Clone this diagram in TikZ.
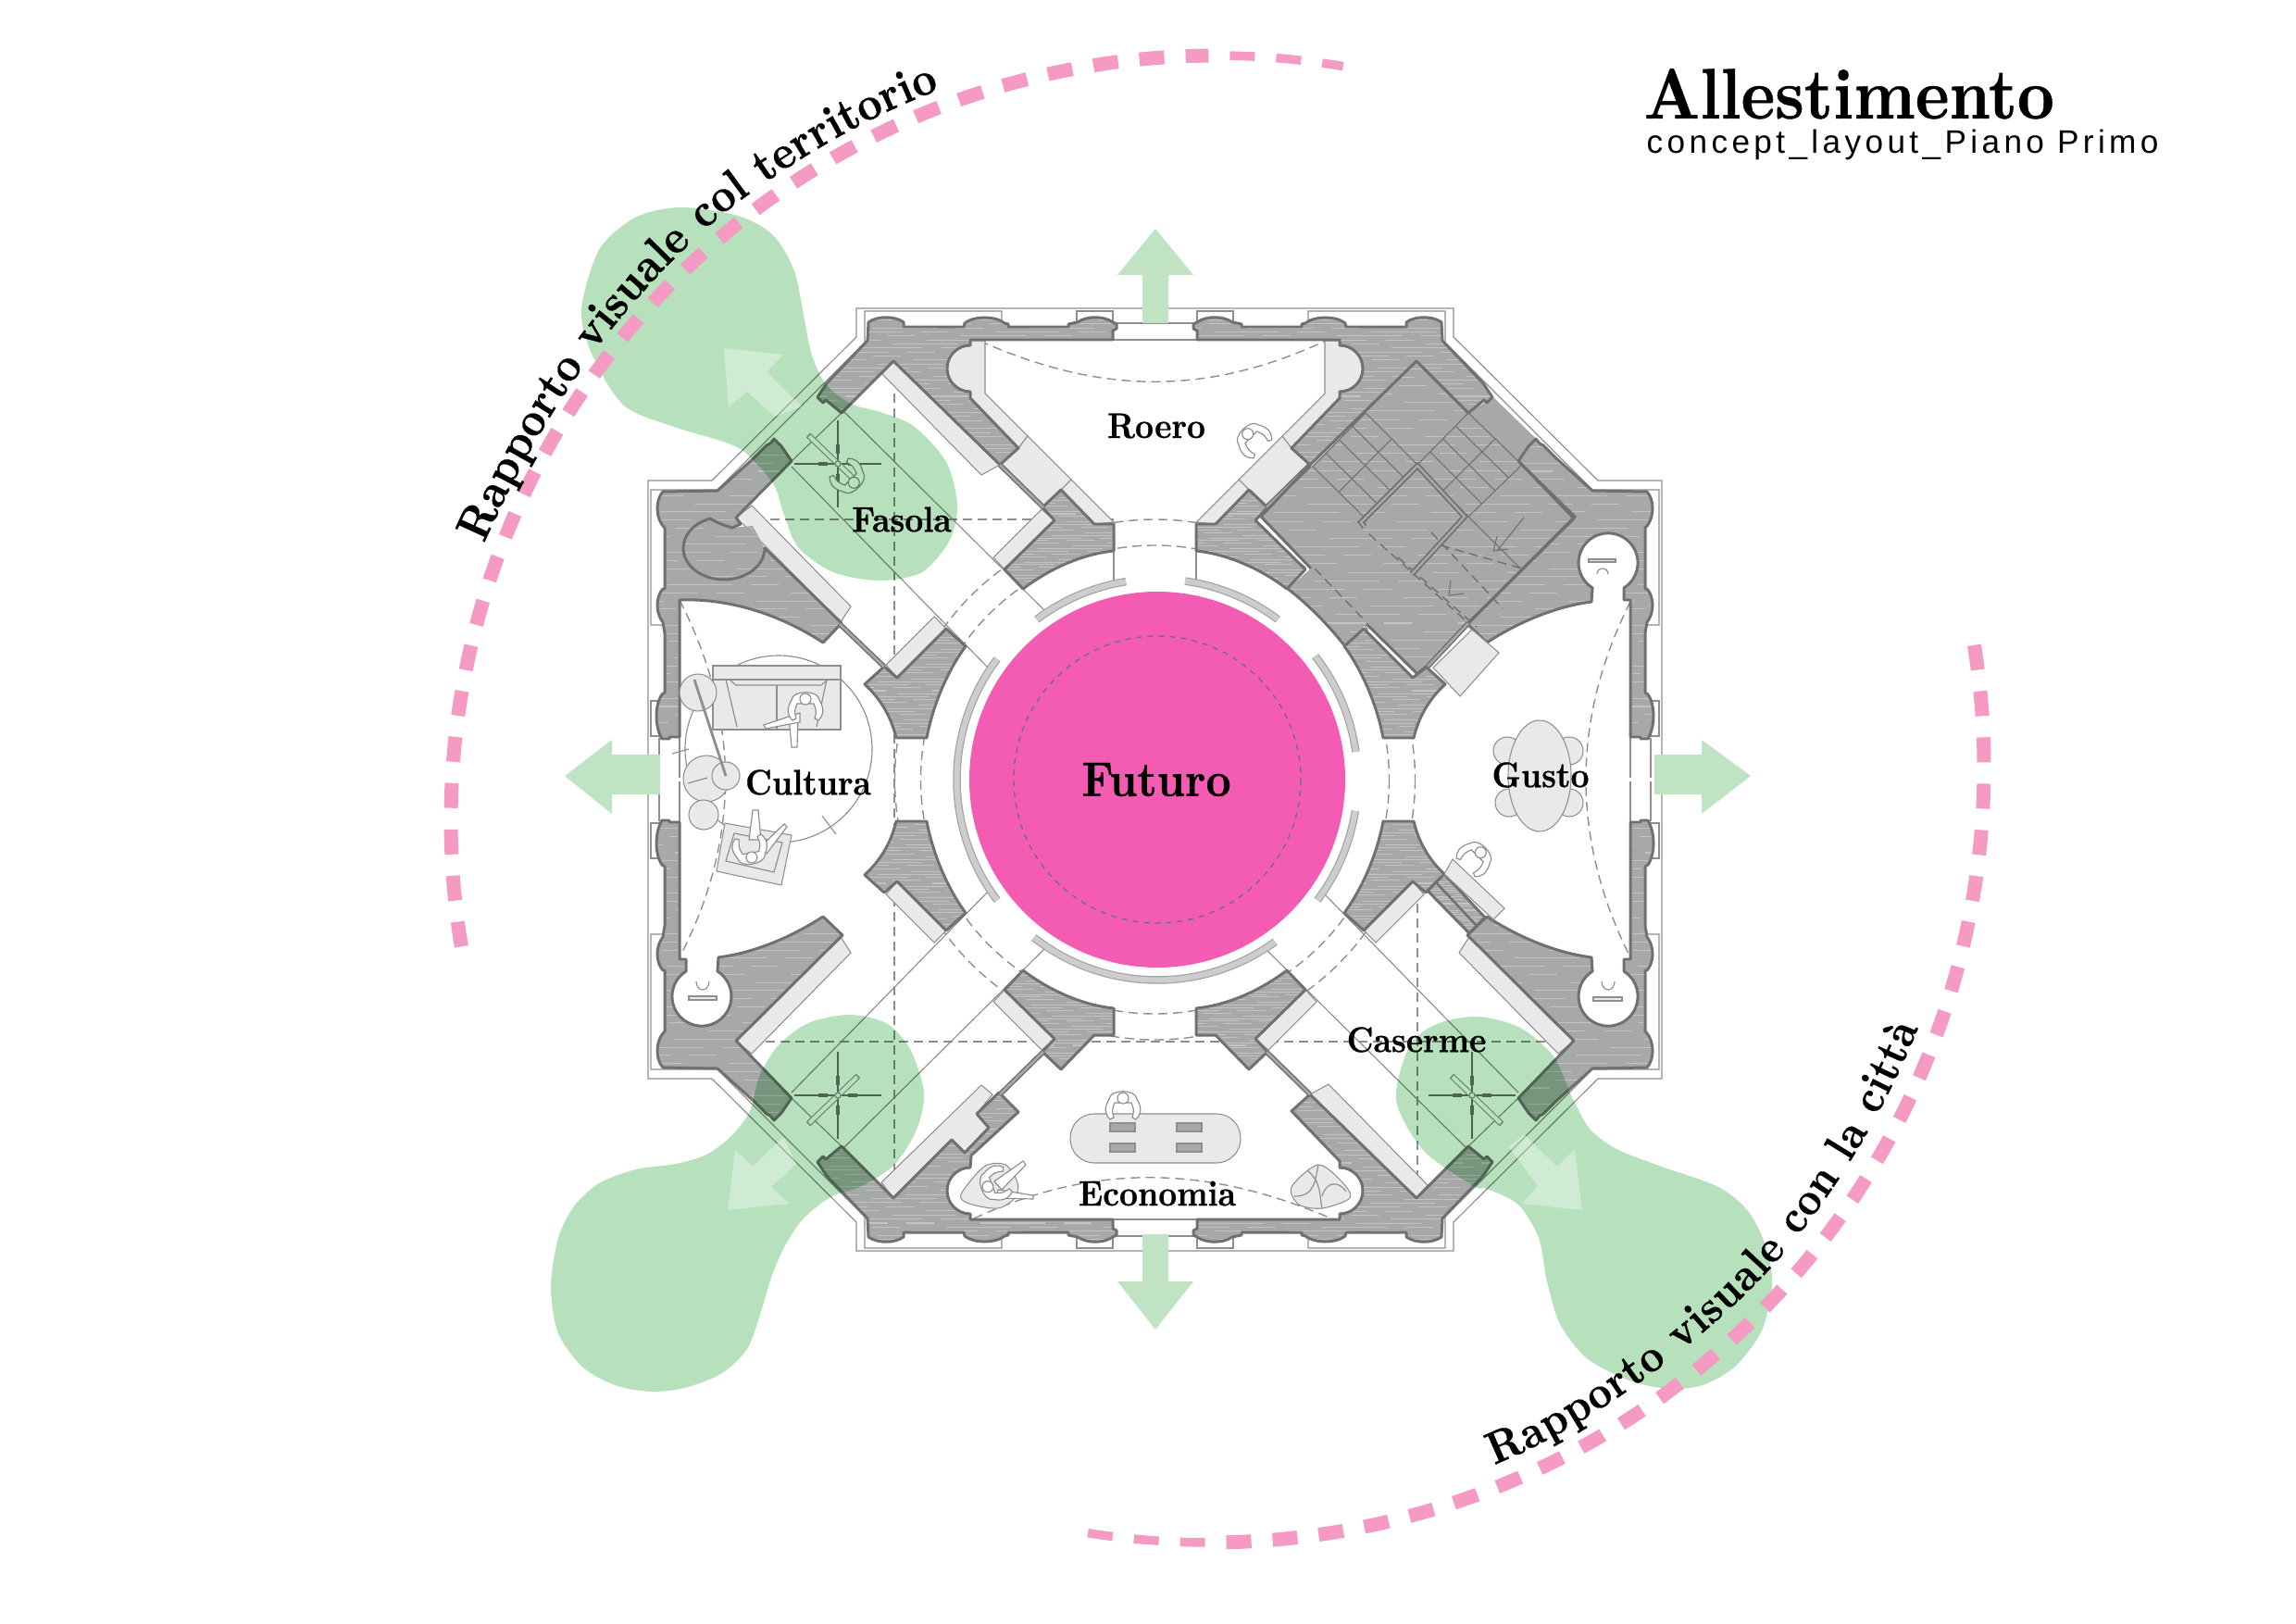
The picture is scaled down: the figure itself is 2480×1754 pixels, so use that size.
\documentclass[tikz,border=0pt]{standalone}
\usepackage{fontspec}
\usetikzlibrary{calc,decorations.text}
\newfontfamily\subfont[LetterSpace=12.5]{Liberation Sans}
\newfontfamily\heavyfont{lmroman10-bold.otf}[FakeBold=.5,FakeStretch=.9]
\definecolor{wallgray}{HTML}{A7A8AA}
\definecolor{walldark}{HTML}{707072}
\definecolor{benchgray}{HTML}{E9E9EA}
\definecolor{linegray}{HTML}{8E8E8E}
\definecolor{futuropink}{HTML}{F45CB4}
\definecolor{dashpink}{HTML}{F49AC3}
\definecolor{blobgreen}{HTML}{B7E1BC}
\definecolor{arrowgreen}{HTML}{C0E4C3}
\definecolor{bandgray}{HTML}{CDCDCE}
\newcommand{\pathfont}{\heavyfont\fontsize{14.5}{16}\selectfont}
\newcommand{\pathfontB}{\heavyfont\fontsize{14}{16}\selectfont}
% outlines are written for the upper left corner of the plan
\newcommand{\pathWallA}[1]{(-48,-475) -- (-48,-485) -- (-44,-487) -- (-44,-492) -- (-48,-494) .. controls (-58,-501) and (-76,-501) .. (-86,-494) -- (-96,-492) -- (-96,-489) -- (-161,-489) -- (-161,-492) -- (-165,-493) .. controls (-175,-501) and (-198,-501) .. (-208,-493) -- (-209,-489) -- (-274,-489) -- (-274,-494) .. controls (-284,-501) and (-302,-501) .. (-312,-494) -- (-313,-474) -- (-357,-428) -- (-367,-413) -- (-361,-407) -- (-358,-410) -- (-341,-396) -- (-285,-452) -- #1 -- (-202,-419) arc (90:270:25) -- (-202,-475) -- cycle}
\newcommand{\pathWallB}{(-395,-344) -- (-406,-360) -- (-414,-368) -- (-418,-363) -- (-422,-361) -- (-436,-347) -- (-475,-312) -- (-534,-311) .. controls (-542,-302) and (-542,-284) .. (-534,-274) -- (-532,-272) -- (-532,-206) -- (-534,-206) .. controls (-542,-197) and (-542,-180) .. (-534,-170) -- (-532,-158) -- (-532,-94) -- (-535,-92) .. controls (-543,-80) and (-543,-58) .. (-535,-44) -- (-527,-44) -- (-527,-46) -- (-516,-46) -- (-516,-194)}
\tikzset{
  wall/.style={fill=wallgray,draw=walldark,line width=.85pt,line join=round,
    path picture={\foreach \k in {1,...,36}{
      \draw[streak,dash phase=\k*3.7mm] ($(path picture bounding box.north west)!\k/37!(path picture bounding box.south west)$) -- ($(path picture bounding box.north east)!\k/37!(path picture bounding box.south east)$);}}},
  streak/.style={draw=white,opacity=.3,line width=.3pt,dash pattern=on 7mm off 2mm on 3mm off 5mm},
  bench/.style={fill=benchgray,draw=linegray,line width=.3pt},
  thinline/.style={draw=linegray,line width=.33pt},
  stairline/.style={draw=walldark,line width=.3pt},
  dashline/.style={draw=linegray,line width=.4pt,dash pattern=on 1mm off .6mm},
  blob/.style={fill=blobgreen,blend mode=multiply},
  openarrow/.style={fill=arrowgreen},
  paleArrow/.style={fill=white,opacity=.35},
  pinkdash/.style={draw=dashpink,line width=1.5mm,dash pattern=on 2.7mm off 2.307mm},
  sign/.style={font=\heavyfont\fontsize{11}{13}\selectfont},
  person/.pic={
    \draw[thinline,fill=white] (-15,-2) .. controls (-22,-14) and (-18,-20) .. (-14,-24) -- (-10,-22) .. controls (-12,-14) .. (-9,-6) -- (9,-6) .. controls (12,-14) .. (10,-22) -- (14,-24) .. controls (18,-20) and (22,-14) .. (15,-2) .. controls (14,9) and (-14,9) .. cycle;
    \draw[thinline,fill=white] (0,-1) circle (6);
  }
}
\begin{document}
\begin{tikzpicture}[x=.1mm,y=-.1mm]
  \useasboundingbox (0,0) rectangle (2480,1754);
  % hub rings and long axes
  \begin{scope}[shift={(1250,842)}]
    \draw[dashline] (-2.5,0) circle (253);
    \draw[dashline] (-2.5,0) circle (281);
    \draw[dashline] (-450,-281) -- (-47,-281);
    \draw[dashline] (-455,283) -- (450,283);
    \draw[dashline] (-284,-417) -- (-284,452);
    \draw[dashline] (281,118) -- (281,452);
    \draw[dashline] (-192,-474) .. controls (-60,-415) and (55,-415) .. (182,-474);
    \draw[dashline] (-198,474) .. controls (-70,415) and (50,415) .. (188,474);
    \draw[dashline] (-516,-194) .. controls (-450,-65) and (-450,65) .. (-516,192);
    \draw[dashline] (511,-192) .. controls (447,-65) and (447,65) .. (511,192);
  \end{scope}
  % outer lines
  \foreach \qx/\qy/\ox in {1/1/1250,1/-1/1250,-1/1/1245,-1/-1/1245}{
    \begin{scope}[shift={(\ox,842)},xscale=\qx,yscale=\qy]
      \draw[thinline] (-2.5,-509) -- (-325,-509) -- (-325,-478) -- (-481,-323) -- (-550,-323) -- (-550,-2);
      \draw[thinline] (-48,-493) -- (-48,-506) -- (-87,-506) -- (-87,-490);
      \draw[thinline] (-168,-490) -- (-168,-506) -- (-316,-506) -- (-316,-472) -- (-475,-313) -- (-547,-313) -- (-547,-167) -- (-534,-167);
      \draw[thinline] (-534,-85) -- (-547,-85) -- (-547,-47) -- (-535,-47);
      \draw[thinline] (-48,-493) -- (-2.5,-493);
      \draw[thinline] (-48,-475) -- (-2.5,-475);
      \draw[thinline] (-538,-45) -- (-538,-2);
      \draw[thinline] (-516,-46) -- (-516,-2);
    \end{scope}}
  % rooms, thin lines and benches on the three free corners
  \foreach \qx/\qy/\ox in {1/1/1250,1/-1/1250,-1/-1/1245}{
    \begin{scope}[shift={(\ox,842)},xscale=\qx,yscale=\qy]
      \draw[thinline] (-338,-397) -- (-122,-183);
      \draw[thinline] (-395,-338) -- (-182,-120);
      \draw[thinline] (-341,-396) -- (-395,-344);
      \draw[bench] (-177,-240) -- (-125,-292) -- (-111,-280) -- (-165,-227) -- cycle;
      \draw[bench] (-241,-176) -- (-228,-163) -- (-281,-110) -- (-293,-124) -- cycle;
      \draw[bench] (-455,-283) -- (-438,-296) -- (-331,-187) -- (-342,-170) -- (-424,-253) -- cycle;
      % ceiling fan
      \draw[line width=.5pt,walldark] (-345,-388) -- (-345,-294);
      \draw[line width=.5pt,walldark] (-392,-341) -- (-298,-341);
      \draw[line width=1.2pt,walldark] (-345,-362) -- (-345,-352);
      \draw[line width=1.2pt,walldark] (-345,-330) -- (-345,-320);
      \draw[line width=1.2pt,walldark] (-366,-341) -- (-356,-341);
      \draw[line width=1.2pt,walldark] (-334,-341) -- (-324,-341);
      \draw[line width=1.8pt,linegray] (-377,-372) -- (-323,-320);
      \draw[line width=1.2pt,white] (-376,-371) -- (-324,-321);
      \draw[thinline,fill=white] (-345,-341) circle (3);
    \end{scope}}
  \foreach \qx/\ox in {1/1250,-1/1245}{
    \begin{scope}[shift={(\ox,842)},xscale=\qx]
      \draw[thinline] (-47,-247) -- (-47,-215);
      \draw[bench] (-186,-474) -- (-186,-417) -- (-140,-371) -- (-150,-358) -- (-202,-412) -- (-202,-419) arc (90:270:25) -- (-202,-474) -- cycle;
      \draw[bench] (-140,-371) -- (-93,-324) -- (-122,-294) -- (-170,-340) -- (-150,-358) -- cycle;
      \draw[bench] (-93,-324) -- (-47,-278) -- (-68,-276) -- (-104,-313) -- cycle;
    \end{scope}}
  \begin{scope}[shift={(1250,842)}]
    \draw[bench] (-285,452) -- (-298,435) -- (-190,330) -- (-178,340) -- (-195,361) -- (-182,376) -- (-208,403) -- (-222,389) -- cycle;
    \draw[bench] (-297,-438) -- (-285,-452) -- (-170,-340) -- (-190,-329) -- cycle;
  \end{scope}
  \begin{scope}[shift={(1245,842)},xscale=-1,yscale=-1]
    \draw[bench] (-297,-438) -- (-285,-452) -- (-170,-340) -- (-190,-329) -- cycle;
  \end{scope}
  % big stair block, upper right
  \begin{scope}[shift={(1250,842)}]
    \draw[wall,draw=none] (281,-453) -- (451,-284) -- (281,-114) -- (226,-168) -- (202,-145) .. controls (184,-168) and (162,-190) .. (141,-206) -- (166,-228) -- (112,-284) -- cycle;
    \fill[wallgray] (336,-396) -- (363,-413) -- (431,-347) -- (390,-344) -- cycle;
  \end{scope}
  % walls
  \foreach \qx/\qy/\ox in {1/1/1250,1/-1/1250,-1/1/1245,-1/-1/1245}{
    \begin{scope}[shift={(\ox,842)},xscale=\qx,yscale=\qy]
      \draw[wall] (-104,-313) -- (-68,-276) -- (-47,-276) -- (-47,-247) .. controls (-85,-243) and (-120,-225) .. (-145,-206) -- (-165,-227) -- (-111,-280) -- (-124,-294) -- cycle;
      \draw[wall] (-228,-163) -- (-207,-144) .. controls (-226,-118) and (-242,-82) .. (-249,-45) -- (-282,-45) .. controls (-288,-70) and (-300,-88) .. (-316,-103) -- (-295,-122) -- (-281,-110) -- cycle;
    \end{scope}}
  \foreach \qx/\qy/\ox in {1/1/1250,-1/1/1245,-1/-1/1245}{
    \begin{scope}[shift={(\ox,842)},xscale=\qx,yscale=\qy]
      \draw[wall] \pathWallA{(-170,-340) -- (-150,-358) -- (-202,-412)};
    \end{scope}}
  \begin{scope}[shift={(1250,842)},yscale=-1]
    \draw[wall] \pathWallA{(-222,-389) -- (-208,-403) -- (-182,-376) -- (-195,-361) -- (-171,-338) -- (-150,-359) -- (-201,-406)};
  \end{scope}
  \foreach \qx/\qy/\ox in {1/-1/1250,-1/1/1245,-1/-1/1245}{
    \begin{scope}[shift={(\ox,842)},xscale=\qx,yscale=\qy]
      \draw[wall] \pathWallB -- (-509,-194) -- (-509,-207) arc (122:418:32) -- (-474,-192) .. controls (-435,-187) and (-395,-170) .. (-361,-148) -- (-340,-168) -- (-455,-282) -- cycle;
    \end{scope}}
  \begin{scope}[shift={(1250,842)}]
    % upper left corner, its round niche stays inside the grey
    \draw[wall,draw=none] \pathWallB .. controls (-465,-196) and (-410,-180) .. (-361,-148) -- (-341,-169) -- (-424,-250) -- (-437,-274) -- (-459,-272) -- (-450,-276) -- (-455,-283) -- cycle;
    \draw[walldark,line width=.85pt,line join=round] \pathWallB .. controls (-465,-196) and (-410,-180) .. (-361,-148) -- (-341,-169) -- (-424,-250) arc (0:250:44 and 34) .. controls (-472,-276) .. (-459,-272) -- (-450,-276) -- (-455,-283) -- cycle;
    % thin partition walls
    \foreach \ax/\ay/\bx/\by in {-170/-340/-123/-294,-343/-168/-295/-122,-170/340/-123/294,165/-340/118/-294,292/-122/336/-169,165/340/118/294}{
      \draw[line width=.55mm,walldark] (\ax,\ay) -- (\bx,\by);
      \draw[line width=.25mm,wallgray] (\ax,\ay) -- (\bx,\by);}
    \draw[walldark,line width=.85pt] (141,-206) .. controls (162,-190) and (184,-168) .. (202,-145);
    \draw[walldark,line width=.85pt] (392,-342) -- (451,-284) -- (336,-169);
    \draw[walldark,line width=.85pt] (226,-168) -- (281,-114) -- (292,-122);
    \draw[walldark,line width=.85pt] (112,-284) -- (166,-228);
    \draw[walldark,line width=.85pt] (112,-284) -- (165,-340);
    % lower right door strip
    \draw[wall] (292,120) -- (310,102) -- (354,149) -- (337,166) -- cycle;
    \draw[walldark,line width=.7pt] (301,111) -- (345,158);
    % stairs
    \foreach \t in {0,.25,.5,.75,1}{
      \draw[stairline] ($(225,-396)!\t!(168,-338)$) -- ($(281,-340)!\t!(224,-283)$);
      \draw[stairline] ($(336,-396)!\t!(281,-340)$) -- ($(394,-340)!\t!(336,-284)$);}
    \foreach \t in {0,.5,1}{
      \draw[stairline] ($(225,-396)!\t!(281,-340)$) -- ($(168,-338)!\t!(224,-283)$);
      \draw[stairline] ($(336,-396)!\t!(394,-340)$) -- ($(281,-340)!\t!(336,-284)$);}
    \draw[stairline] (336,-284) -- (392,-228);
    \draw[stairline] (396,-283) -- (367,-247);
    \draw[dashline,walldark] (229,-265) -- (334,-171);
    \draw[dashline,walldark] (170,-228) -- (222,-174);
    \draw[dashline,walldark] (296,-267) -- (373,-185);
    \draw[dashline,walldark] (306,-253) -- (394,-228);
    \draw[dashline,walldark] (260,-240) -- (345,-165);
    \draw[stairline] (367,-263) -- (363,-247) -- (379,-249);
    \draw[stairline] (317,-215) -- (315,-199) -- (331,-201);
    \draw[line width=.6mm,walldark] (224,-273) -- (220,-278) -- (281,-339) -- (332,-284) -- (275,-222);
    \draw[line width=.25mm,wallgray] (224,-273) -- (220,-278) -- (281,-339) -- (332,-284) -- (275,-222);
    % ring segments and the central circle
    \foreach \a/\b in {233/261,278/307,322/352,9/37,54/128,143/217}{
      \draw[line width=.85mm,linegray!80] (0,0) ++(\a:216.5) arc (\a:\b:216.5);
      \draw[line width=.6mm,bandgray] (0,0) ++(\a:216.5) arc (\a:\b:216.5);}
    \fill[futuropink] (0,0) circle (203);
    \draw[line width=.4pt,walldark,dash pattern=on .6mm off .6mm] (0,0) circle (155);
    % furniture Cultura
    \draw[thinline] (-409,-33) circle (101);
    \draw[bench] (-480,-123) rectangle (-342,-54);
    \draw[thinline] (-480,-108) -- (-342,-108);
    \draw[thinline] (-466,-108) -- (-454,-57);
    \draw[thinline] (-357,-108) -- (-368,-57);
    \draw[thinline] (-461,-107) -- (-455,-102) -- (-363,-102) -- (-357,-107);
    \draw[line width=.6pt,linegray] (-411,-102) -- (-411,-54);
    \draw[bench] (-496,-94) circle (20);
    \draw[bench] (-487,-1) circle (25);
    \draw[bench] (-466,-4) circle (15);
    \draw[bench] (-490,38) circle (16);
    \draw[line width=.8pt,linegray] (-500,-108) -- (-466,-4);
    \draw[thinline] (-524,-28) -- (-506,-33);
    \draw[thinline] (-507,4) -- (-486,-2);
    \draw[thinline] (-362,39) -- (-347,59);
    \draw[thinline,fill=white] (-398,-68) -- (-395,-35) -- (-389,-35) -- (-388,-68) -- cycle;
    \draw[thinline,fill=white] (-386,-72) -- (-425,-59) -- (-423,-55) -- (-386,-62) -- cycle;
    \pic[rotate=180] at (-380,-88) {person};
    \draw[bench] (-467,47) -- (-395,60) -- (-406,114) -- (-476,99) -- cycle;
    \draw[thinline] (-457,58) -- (-405,68) -- (-414,100) -- (-466,88) -- cycle;
    \draw[thinline,fill=white] (-441,65) -- (-437,33) -- (-431,33) -- (-428,65) -- cycle;
    \draw[thinline,fill=white] (-428,72) -- (-403,48) -- (-400,51) -- (-422,80) -- cycle;
    \pic[rotate=10] at (-438,85) {person};
    % furniture Gusto
    \foreach \cx/\cy in {378/-31,445/-31,380/25,445/25}{
      \draw[bench] (\cx,\cy) circle (15);}
    \draw[bench] (413,-4) ellipse (34 and 60);
    \draw[bench] (340,-162) -- (369,-137) -- (327,-90) -- (298,-121) -- cycle;
    \draw[bench] (319,86) -- (375,139) -- (363,151) -- (310,102) -- cycle;
    \pic[rotate=135] at (350,78) {person};
    \pic[rotate=-135] at (97,-374) {person};
    \pic[rotate=45] at (-327,-320) {person};
    % furniture Economia
    \draw[bench,rounded corners=2.6mm] (-94,361) rectangle (90,414);
    \foreach \tx in {-51,21}{
      \draw[thinline,fill=wallgray] (\tx,371) rectangle ++(27,9);
      \draw[thinline,fill=wallgray] (\tx,393) rectangle ++(27,9);}
    \pic[rotate=180] at (-37,343) {person};
    \draw[bench] plot[smooth cycle] coordinates {(-212,448) (-187,418) (-164,416) (-151,435) (-153,451) (-172,463) (-203,458)};
    \draw[thinline,fill=white] (-176,434) -- (-145,412) -- (-142,416) -- (-168,443) -- cycle;
    \draw[thinline,fill=white] (-172,443) -- (-134,449) -- (-134,453) -- (-174,452) -- cycle;
    \pic[rotate=-70] at (-184,440) {person};
    \draw[bench] plot[smooth cycle] coordinates {(145,440) (174,416) (200,435) (208,452) (178,463) (153,459)};
    \draw[thinline] (162,422) .. controls (178,435) and (175,450) .. (178,463);
    \draw[thinline] (148,450) .. controls (170,450) and (170,435) .. (174,416);
    \draw[thinline] (178,450) .. controls (182,435) and (195,432) .. (204,445);
    % headsets
    \draw[bench] (466,-238) rectangle (495,-235);
    \draw[thinline] (475,-222) arc (180:360:6 and 6);
    \draw[bench] (-506,234) rectangle (-476,238);
    \draw[thinline] (-498,218) arc (180:0:7 and 9);
    \draw[bench] (471,235) rectangle (502,239);
    \draw[thinline] (480,218) arc (180:0:7 and 9);
  \end{scope}
  % green bubbles
  \fill[blob] plot[smooth cycle] coordinates {(628,335) (640,384) (674,438) (728,461) (778,476) (804,488) (835,522) (846,553) (862,591) (900,618) (950,627) (996,618) (1026,583) (1034,545) (1022,499) (988,461) (954,446) (919,436) (892,415) (877,384) (869,346) (858,293) (835,254) (797,233) (735,224) (686,235) (647,270)};
  \fill[blob] plot[smooth cycle] coordinates {(917,1096) (957,1105) (983,1133) (998,1180) (990,1220) (967,1257) (933,1280) (897,1293) (867,1317) (847,1347) (833,1380) (820,1423) (807,1457) (780,1483) (743,1498) (707,1503) (667,1497) (630,1477) (603,1440) (595,1390) (603,1337) (620,1303) (647,1278) (687,1263) (730,1257) (763,1247) (790,1227) (810,1200) (820,1163) (840,1130) (873,1105)};
  \fill[blob] plot[smooth cycle] coordinates {(1596,1098) (1642,1110) (1678,1141) (1699,1187) (1717,1219) (1746,1241) (1792,1259) (1856,1282) (1889,1309) (1908,1348) (1914,1387) (1903,1437) (1874,1476) (1839,1496) (1803,1500) (1760,1491) (1714,1467) (1685,1430) (1671,1384) (1662,1337) (1640,1301) (1606,1284) (1592,1281) (1538,1243) (1508,1188) (1523,1129) (1552,1106)};
  % arrows
  \fill[openarrow] (1248,247) -- (1289,297) -- (1262,297) -- (1262,349) -- (1234,349) -- (1234,297) -- (1207,297) -- cycle;
  \fill[openarrow] (1248,1436) -- (1289,1384) -- (1262,1384) -- (1262,1333) -- (1234,1333) -- (1234,1384) -- (1207,1384) -- cycle;
  \fill[openarrow] (610,838) -- (661,799) -- (661,815) -- (713,815) -- (713,858) -- (661,858) -- (661,879) -- cycle;
  \fill[openarrow] (1891,838) -- (1838,799) -- (1838,815) -- (1787,815) -- (1787,858) -- (1838,858) -- (1838,879) -- cycle;
  \fill[paleArrow] (782,376) -- (846,383) -- (828,402) -- (866,439) -- (837,450) -- (807,423) -- (787,440) -- cycle;
  \fill[paleArrow] (786,1307) -- (794,1242) -- (813,1260) -- (846,1228) -- (860,1257) -- (833,1282) -- (852,1300) -- cycle;
  \fill[paleArrow] (1709,1307) -- (1701,1241) -- (1682,1260) -- (1646,1225) -- (1630,1239) -- (1661,1281) -- (1644,1300) -- cycle;
  % pink arcs with their texts
  \draw[pinkdash] (1313,886) ++(170.5:826) arc (170.5:269.47:826);
  \draw[pinkdash,line width=.95mm] (1313,886) ++(271.07:826) arc (271.07:279.6:826);
  \draw[pinkdash] (1306,829) ++(88.73:837) arc (88.73:-9.1:837);
  \draw[pinkdash,line width=.95mm] (1306,829) ++(99:837) arc (99:90.3:837);
  \path[decorate,decoration={text along path,text align={fit to path},text={|\pathfont|Rapporto visuale col territorio}}] (523,587) .. controls (570,480) and (650,340) .. (785,228) .. controls (860,170) and (940,125) .. (1015,97);
  \path[decorate,decoration={text along path,text align={fit to path},text={|\pathfontB|Rapporto visuale con la città}}] (1614,1582) .. controls (1700,1548) and (1810,1475) .. (1903,1380) .. controls (1965,1315) and (2030,1215) .. (2072,1110);
  % labels
  \node[font=\heavyfont\fontsize{15}{17}\selectfont] (futuro) at (1249,842) {Futuro};
  \node[sign] (roero) at (1249,460) {Roero};
  \node[sign] (fasola) at (974,561) {Fasola};
  \node[sign] (cultura) at (873,845) {Cultura};
  \node[sign] (gusto) at (1664,837) {Gusto};
  \node[sign] (caserme) at (1530,1123) {Caserme};
  \node[sign] (economia) at (1250,1289) {Economia};
  \node[anchor=base west,inner sep=0pt,font=\heavyfont\fontsize{22}{24}\selectfont] (title) at (1775,128) {Allestimento};
  \node[anchor=base west,inner sep=0pt,font=\subfont\fontsize{10}{12}\selectfont] (subtitle) at (1778,166) {concept\_layout\_Piano Primo};
\end{tikzpicture}
\end{document}
